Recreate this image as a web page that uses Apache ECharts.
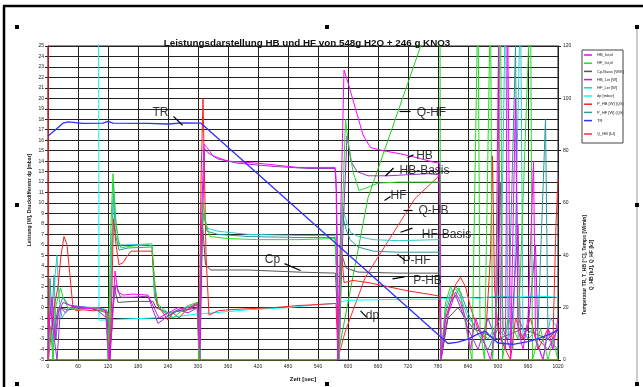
<!DOCTYPE html>
<html><head><meta charset="utf-8">
<script src="https://cdn.jsdelivr.net/npm/echarts@6/dist/echarts.min.js"></script>
<style>html,body{margin:0;padding:0;background:#fff}#c{width:643px;height:387px}</style>
</head><body><div id="c"></div>
<script>
// ---- tick labels / axes ----
const xMin = 0, xMax = 1020, xStep = 60;
const yMin = -5, yMax = 25, yStep = 1;
const y2Min = 0, y2Max = 120, y2Step = 20;
const titleText = 'Leistungsdarstellung HB und HF von 548g H2O + 246 g KNO3';
const xName = 'Zeit [sec]';
const yName = 'Leistung [W], Druckdifferenz dp [mbar]';
const y2Name1 = 'Temperatur TR, T_HB [°C], Tempo [W/min]';
const y2Name2 = 'Q_HB [kJ], Q_HF [kJ]';
const legendNames = ['HB_Ist,el','HF_Ist,el','Cp,Basis [W/K]','HB_Lei [W]','HF_Lei [W]','dp [mbar]','P_HB [W] (Q/t)','P_HF [W] (Q/t)','TR','Q_HB [kJ]'];

// ---- series values [time s, value] ----
const hbIst = [[0,-5],[3,-1],[8,1],[14,-3],[20,-0.5],[30,0.5],[45,0.2],[60,0],[80,-0.1],[100,0],[115,-0.3],[122,-5],[128,-2],[134,3.5],[140,1.5],[150,1.2],[170,1.3],[200,1.2],[212,0],[222,-1],[240,-0.5],[260,0],[280,-0.2],[298,0.3],[303,-4],[308,10],[312,15.6],[318,15.3],[330,14.5],[360,14.0],[420,13.8],[500,13.4],[574,13.4],[576,12.5],[580,-5],[586,10],[592,22.7],[600,21.5],[615,19],[630,16.5],[645,15.3],[670,15],[705,14.7],[740,14.3],[771,13.9],[783,13.8],[786,-5],[795,-1],[805,0],[815,1.5],[825,0.5],[835,-1],[845,-4],[855,-1],[870,-3],[885,-5],[895,-2],[901,25],[905,-3],[915,-4],[919,30],[925,-5],[935,20],[940,-2],[950,-4],[960,-1],[971,14],[975,-3],[990,-5],[1000,-2],[1010,-4],[1020,-1]];
const hfIst = [[0,-5],[5,-2],[10,-5],[15,0],[25,1.9],[30,1],[40,0],[60,-0.2],[80,0],[100,-0.1],[116,-0.5],[120,-5],[126,8],[130,12.8],[134,9],[140,6.5],[146,5.7],[155,5.8],[170,5.9],[200,6.0],[208,5.9],[214,2],[220,0.3],[240,-0.5],[250,-1],[262,-0.5],[280,0.2],[298,0.5],[302,-5],[306,5],[310,10.1],[316,8],[324,6.8],[360,6.6],[420,6.5],[500,6.5],[574,6.6],[578,3],[582,-5],[588,8],[595,18],[600,16],[610,13],[622,11.2],[640,11.5],[660,11.9],[700,12.0],[783,12.0],[786,-5],[795,0.5],[805,2],[815,1.0],[822,1.9],[830,0],[840,-3],[848,-5],[860,30],[864,-2],[873,-5],[885,30],[889,-5],[897,0],[905,30],[909,-5],[920,-1],[940,-3],[965,30],[969,-5],[985,-2],[1000,-5],[1010,-3],[1020,-5]];
const cpBasis = [[0,-1],[10,-3],[20,0],[40,-0.2],[80,0],[120,-0.5],[126,-3],[132,2],[140,0.5],[170,0.6],[210,0.6],[216,0],[240,-0.5],[280,-0.2],[299,0],[303,-3],[309,8],[315,4.1],[325,3.6],[400,3.6],[500,3.4],[575,3.3],[580,-2],[588,5],[596,3.8],[620,3.4],[700,3.3],[783,3.3],[786,-5],[800,-1],[820,0],[850,-2],[900,-3],[950,-2],[1000,-3],[1020,-2]];
const hbLei = [[0,-4],[5,0],[10,-2],[18,-5],[25,0],[35,-0.5],[50,0.2],[80,0],[100,-0.3],[118,-1],[124,-5],[130,0],[136,2.2],[145,1.0],[170,1.0],[200,1.1],[212,-0.5],[220,-1.5],[240,-0.8],[260,-0.2],[280,-0.5],[299,0],[304,-5],[309,8],[313,15.2],[320,14.8],[340,14.2],[380,13.8],[450,13.5],[520,13.3],[574,13.3],[577,11],[582,-5],[588,5],[598,16.4],[606,14],[618,13],[640,12.6],[680,12.6],[720,12.7],[760,12.8],[783,12.7],[786,-5],[795,-2],[805,0.5],[815,1.2],[825,0],[840,-2],[860,-4],[880,-1],[895,-3],[905,12],[910,-2],[925,-4],[940,8],[945,-3],[960,-2],[975,6],[980,-3],[1000,-4],[1020,-2]];
const hfLei = [[0,-3],[6,1],[10,-5],[14,3],[18,5],[22,1],[28,-1],[40,0],[60,0.1],[100,0],[118,-0.2],[123,-5],[128,6],[131,12],[136,8],[142,6],[160,6],[208,6.1],[213,1.5],[222,0],[240,-0.6],[260,-0.2],[280,0.1],[299,0.4],[303,-5],[307,8],[312,9],[318,7.6],[340,7.3],[400,7.0],[500,6.9],[574,6.9],[578,3],[582,-5],[588,10],[595,8.5],[605,7.2],[620,6.8],[650,6.5],[700,6.4],[783,6.5],[786,-5],[795,0],[805,1.5],[815,1.8],[825,1],[840,-1],[860,-2],[880,-3],[905,-1],[915,30],[920,-2],[930,-4],[945,30],[950,-3],[970,-2],[990,-5],[1005,-1],[1020,-2]];
const dp = [[101,30],[102,-1.2],[150,-1.1],[200,-1.0],[250,-0.9],[300,-0.6],[330,-0.5],[400,-0.2],[480,0],[540,0.3],[574,0.4],[580,0.5],[600,0.7],[700,0.8],[780,0.8],[800,0.9],[830,1.0],[860,0.9],[900,1.1],[940,1.0],[980,1.1],[1020,1.0]];
const pHB = [[0,30],[1,-5],[5,-3],[12,0],[20,2],[26,5],[32,6.8],[38,6],[44,3],[50,0],[56,-0.3],[70,-0.2],[90,-0.3],[110,-0.2],[120,-0.5],[124,-5],[128,2],[131,8.5],[136,6],[142,4.1],[150,4.3],[158,4.9],[166,5.4],[190,5.4],[208,5.4],[212,3],[218,0.3],[230,-0.5],[240,-1.2],[250,-0.5],[262,-1],[275,-0.3],[290,0.2],[299,0.5],[302,-5],[306,12],[310,20],[316,5],[322,-0.7],[340,-0.3],[360,-0.2],[400,-0.1],[450,0],[500,0.2],[540,0.3],[576,0.4],[580,-5],[586,6],[592,2.4],[610,2.6],[640,2.4],[680,2.0],[720,1.6],[760,1.3],[783,1.1],[786,-5],[795,-1],[805,0.5],[815,2.2],[825,2.9],[835,2],[845,0],[860,-2],[875,-3],[885,5],[889,14.5],[893,2],[900,-2],[915,-4],[925,-5],[935,-1],[950,-3],[965,-1],[980,-4],[1000,-2],[1010,-3],[1016,8],[1020,12.3]];
const pHF = [[0,-5],[4,2.8],[8,-1],[12,3.1],[16,-3],[22,0],[30,1],[40,0.3],[60,0],[100,0],[118,-0.3],[122,-5],[127,5],[131,11],[135,7],[142,5.5],[160,5.7],[208,5.8],[213,1],[222,0],[240,-0.8],[260,-0.3],[280,0],[299,0.3],[303,-5],[307,6],[311,9],[318,7.3],[340,7.0],[400,6.8],[500,6.7],[574,6.7],[578,2],[582,-5],[588,9],[596,7.5],[604,6.5],[620,5.8],[650,5.4],[700,5.3],[783,5.3],[786,-5],[795,-0.5],[805,1],[815,2],[825,1.5],[840,-0.5],[860,-2.5],[880,-4],[900,-2],[920,-3],[935,25],[940,-1],[960,-3],[980,-2],[995,18],[1000,-3],[1020,-4]];
// right axis series
const tr = [[0,85.6],[15,88],[30,90.5],[40,91],[70,90.4],[110,90.5],[120,91.2],[130,90.5],[200,90.4],[240,90.2],[270,90.6],[306,90.5],[784,9.1],[800,6.3],[820,6.8],[840,8],[860,10],[875,11],[885,9],[900,6.5],[930,6],[960,7],[985,8.5],[1005,10],[1020,11.5]];
const qHF = [[0,0],[578,0],[590,12],[600,22],[620,42],[640,62],[660,73],[680,84],[700,95],[720,106],[740,117],[760,128],[784,140],[785,0],[1020,0]];
const qHB = [[0,0],[579,0],[594,10.6],[634,31.4],[684,46.6],[734,61.7],[780,70],[784,71],[785,0],[1020,0]];

// ---- in-chart annotations: [text, t, v] and leader lines [t1,v1,t2,v2] ----
const annText = [['TR',225,18.66],['Q-HF',767,18.66],['HB',753,14.5],['HB-Basis',753,13.08],['HF',701,10.71],['Q-HB',771,9.29],['HF-Basis',797,6.93],['P-HF',737,4.46],['P-HB',759,2.57],['dp',649,-0.74],['Cp',449,4.56]];
const annLeader = [[251,18.28,269,17.43],[703,18.75,725,18.75],[719,14.32,731,14.6],[675,12.58,691,13.34],[673,10.24,685,10.62],[711,9.3,729,9.3],[705,7.2,729,7.6],[699,5.1,713,4.56],[689,2.75,713,2.95],[625,-0.3,637,-0.9],[473,4.21,505,3.55]];

const FONT = 'Liberation Sans, Arial, sans-serif';
const chart = echarts.init(document.getElementById('c'), null, {renderer:'canvas'});

function ln(name, data, color, yi, w){
  return {name:name, type:'line', data:data, yAxisIndex:yi||0, symbol:'none', showSymbol:false,
    lineStyle:{color:color, width:w||1}, itemStyle:{color:color}, animation:false, clip:true, z:2};
}
const cols = {hbIst:'#ff00ff', hfIst:'#22dd22', cp:'#555555', hbLei:'#9a30c8', hfLei:'#33c8c8', dp:'#00ffff', pHB:'#ff2020', pHF:'#2a9a9a', tr:'#3030ff', qHF:'#22cc22', qHB:'#ff3030'};

const series = [
  ln('Q_HB [kJ]', qHB, cols.qHB, 1),
  ln('Q_HF', qHF, cols.qHF, 1),
  ln(legendNames[2], cpBasis, cols.cp, 0),
  ln(legendNames[5], dp, cols.dp, 0),
  ln(legendNames[7], pHF, cols.pHF, 0),
  ln(legendNames[4], hfLei, cols.hfLei, 0),
  ln(legendNames[6], pHB, cols.pHB, 0),
  ln(legendNames[3], hbLei, cols.hbLei, 0),
  ln(legendNames[1], hfIst, cols.hfIst, 0),
  ln(legendNames[0], hbIst, cols.hbIst, 0),
  ln('TR', tr, cols.tr, 1, 1.3),
  {name:'ann', type:'scatter', symbolSize:0, silent:true, animation:false, z:5,
   data: annText.map(a=>({name:a[0], value:[a[1],a[2]]})),
   label:{show:true, position:'inside', formatter:p=>p.name, color:'#000', fontFamily:FONT, fontSize:12},
   markLine:{silent:true, symbol:['none','none'], animation:false, label:{show:false},
     lineStyle:{color:'#000', width:1.2, type:'solid'},
     data: annLeader.map(l=>[{coord:[l[0],l[1]]},{coord:[l[2],l[3]]}])}}
];

const axLabel = {fontSize:5, color:'#222', fontFamily:FONT, formatter:v=>String(v)};
const option = {
  backgroundColor:'#fff',
  animation:false,
  title:{text:titleText, left:302, top:33, textAlign:'center', textStyle:{fontSize:9.8, fontWeight:'bold', color:'#111', fontFamily:FONT}},
  grid:{left:48, right:85, top:46, bottom:24, show:true, borderColor:'#222', borderWidth:1},
  legend:[{
    data:legendNames.slice(0,9), orient:'vertical', left:584, top:52, itemWidth:8, itemHeight:1.5, icon:'rect',
    itemGap:2.2, padding:0, textStyle:{fontSize:4, lineHeight:6, color:'#222', fontFamily:FONT}, selectedMode:false
  },{
    data:['Q_HB [kJ]'], orient:'vertical', left:584, top:131, itemWidth:8, itemHeight:1.5, icon:'rect',
    padding:0, textStyle:{fontSize:4, lineHeight:6, color:'#222', fontFamily:FONT}, selectedMode:false
  }],
  xAxis:{type:'value', min:xMin, max:xMax, interval:xStep,
    name:xName, nameLocation:'middle', nameGap:16, nameTextStyle:{fontSize:6, fontWeight:'bold', color:'#111', fontFamily:FONT},
    axisLine:{lineStyle:{color:'#222'}}, axisTick:{length:3, lineStyle:{color:'#222'}},
    axisLabel:Object.assign({margin:4}, axLabel),
    splitLine:{show:true, lineStyle:{color:'#222', width:1}}},
  yAxis:[{type:'value', min:yMin, max:yMax, interval:yStep,
    axisLine:{show:true, lineStyle:{color:'#222'}}, axisTick:{show:true, length:3, lineStyle:{color:'#222'}},
    axisLabel:Object.assign({margin:4}, axLabel),
    splitLine:{show:true, lineStyle:{color:'#222', width:1}}},
   {type:'value', min:y2Min, max:y2Max, interval:y2Step, position:'right',
    axisLine:{show:true, lineStyle:{color:'#222'}}, axisTick:{show:true, length:3, lineStyle:{color:'#222'}},
    axisLabel:Object.assign({margin:5}, axLabel), splitLine:{show:false}}],
  graphic:[
    {type:'line', shape:{x1:3,y1:6,x2:643,y2:6}, style:{stroke:'#000', lineWidth:2.5}, silent:true},
    {type:'line', shape:{x1:4,y1:6,x2:4,y2:387}, style:{stroke:'#000', lineWidth:2.5}, silent:true},
    {type:'line', shape:{x1:637,y1:27,x2:637,y2:385}, style:{stroke:'#999', lineWidth:1}, silent:true},
    {type:'rect', shape:{x:582,y:50,width:41,height:93}, style:{fill:null, stroke:'#444', lineWidth:1}, silent:true},
    {type:'text', x:30, y:200, rotation:Math.PI/2, style:{text:yName, fontSize:5, fontWeight:'bold', fill:'#222', fontFamily:FONT, align:'center', verticalAlign:'middle'}, silent:true},
    {type:'text', x:585, y:265, rotation:Math.PI/2, style:{text:y2Name1, fontSize:5, fontWeight:'bold', fill:'#222', fontFamily:FONT, align:'center', verticalAlign:'middle'}, silent:true},
    {type:'text', x:592, y:265, rotation:Math.PI/2, style:{text:y2Name2, fontSize:5, fontWeight:'bold', fill:'#222', fontFamily:FONT, align:'center', verticalAlign:'middle'}, silent:true}
  ].concat([[17,27],[327,27],[637,27],[17,205],[637,205],[17,384],[327,384],[637,384]].map(p=>(
    {type:'rect', shape:{x:p[0]-2,y:p[1]-2,width:4,height:4}, style:{fill:'#000'}, silent:true}))),
  series:series
};
chart.setOption(option);
</script></body></html>
